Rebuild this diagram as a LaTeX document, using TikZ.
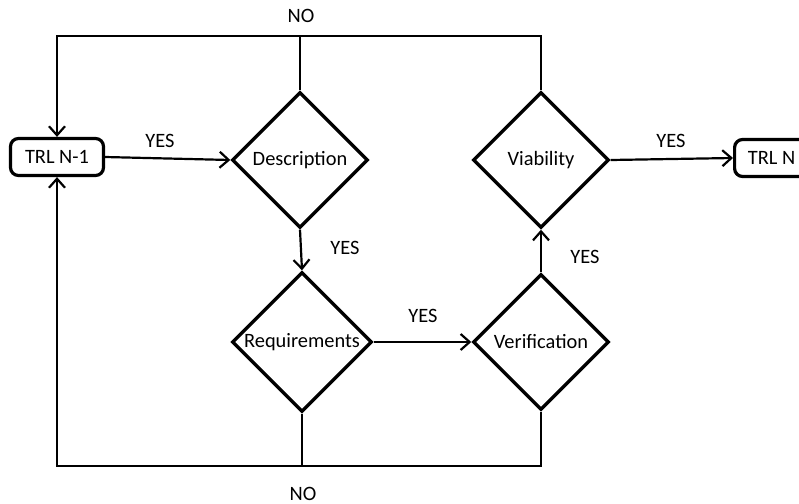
\documentclass[tikz,border=0pt]{standalone}
\usepackage{fontspec}
\setmainfont{Carlito}
\usetikzlibrary{shapes.geometric,arrows.meta}

\begin{document}
\begin{tikzpicture}[x=0.5pt,y=-0.5pt,
  font=\fontsize{10.2pt}{12pt}\selectfont,
  every node/.style={text=black},
  trlbox/.style={draw=black,line width=1.6pt,rounded corners=4pt,
    minimum width=46.5pt,minimum height=18.5pt,inner sep=0pt},
  decision/.style={draw=black,diamond,line width=1.7pt,aspect=1,
    inner sep=0pt,minimum width=68pt,minimum height=68pt},
  link/.style={line width=1.1pt,draw=black},
  arr/.style={link,-{Straight Barb[length=4.5pt,width=8pt,line width=1.1pt]}},
  lbl/.style={inner sep=1pt}]

  \useasboundingbox (0,0) rectangle (799,504);

  % process stages
  \node[trlbox] (n1) at (57,157) {TRL N-1};
  \node[trlbox,minimum width=37pt,anchor=west] (n2) at (733,158) {TRL N};

  % decision points
  \node[decision] (desc) at (300,160) {Description};
  \node[decision,minimum width=70pt,minimum height=70pt] (req) at (302,342) {Requirements};
  \node[decision] (ver) at (541,342) {Verification};
  \node[decision] (via) at (541,160) {Viability};

  % corners of the feedback loops
  \coordinate (tl) at (57,36);
  \coordinate (bl) at (57,466);

  % forward path
  \draw[arr] (n1.east) -- (desc.west);
  \draw[arr] (desc.south) -- (req.north);
  \draw[arr] (req.east) -- (ver.west);
  \draw[arr] (ver.north) -- (via.south);
  \draw[arr] (via.east) -- (n2.west);

  % upper "NO" loop
  \draw[arr,line join=miter] (via.north) |- (tl) -- (n1.north);
  \draw[link] (desc.north) -- (desc.north |- tl);

  % lower "NO" loop
  \draw[arr,line join=miter] (ver.south) |- (bl) -- (n1.south);
  \draw[link] (req.south) -- (req.south |- bl);

  % labels
  \node[lbl] (y1) at (160,141) {YES};
  \node[lbl] (y2) at (345,248) {YES};
  \node[lbl] (y3) at (423,316) {YES};
  \node[lbl] (y4) at (585,257) {YES};
  \node[lbl] (y5) at (671,141) {YES};
  \node[lbl] (no1) at (301,16) {NO};
  \node[lbl] (no2) at (303,494) {NO};
\end{tikzpicture}
\end{document}
